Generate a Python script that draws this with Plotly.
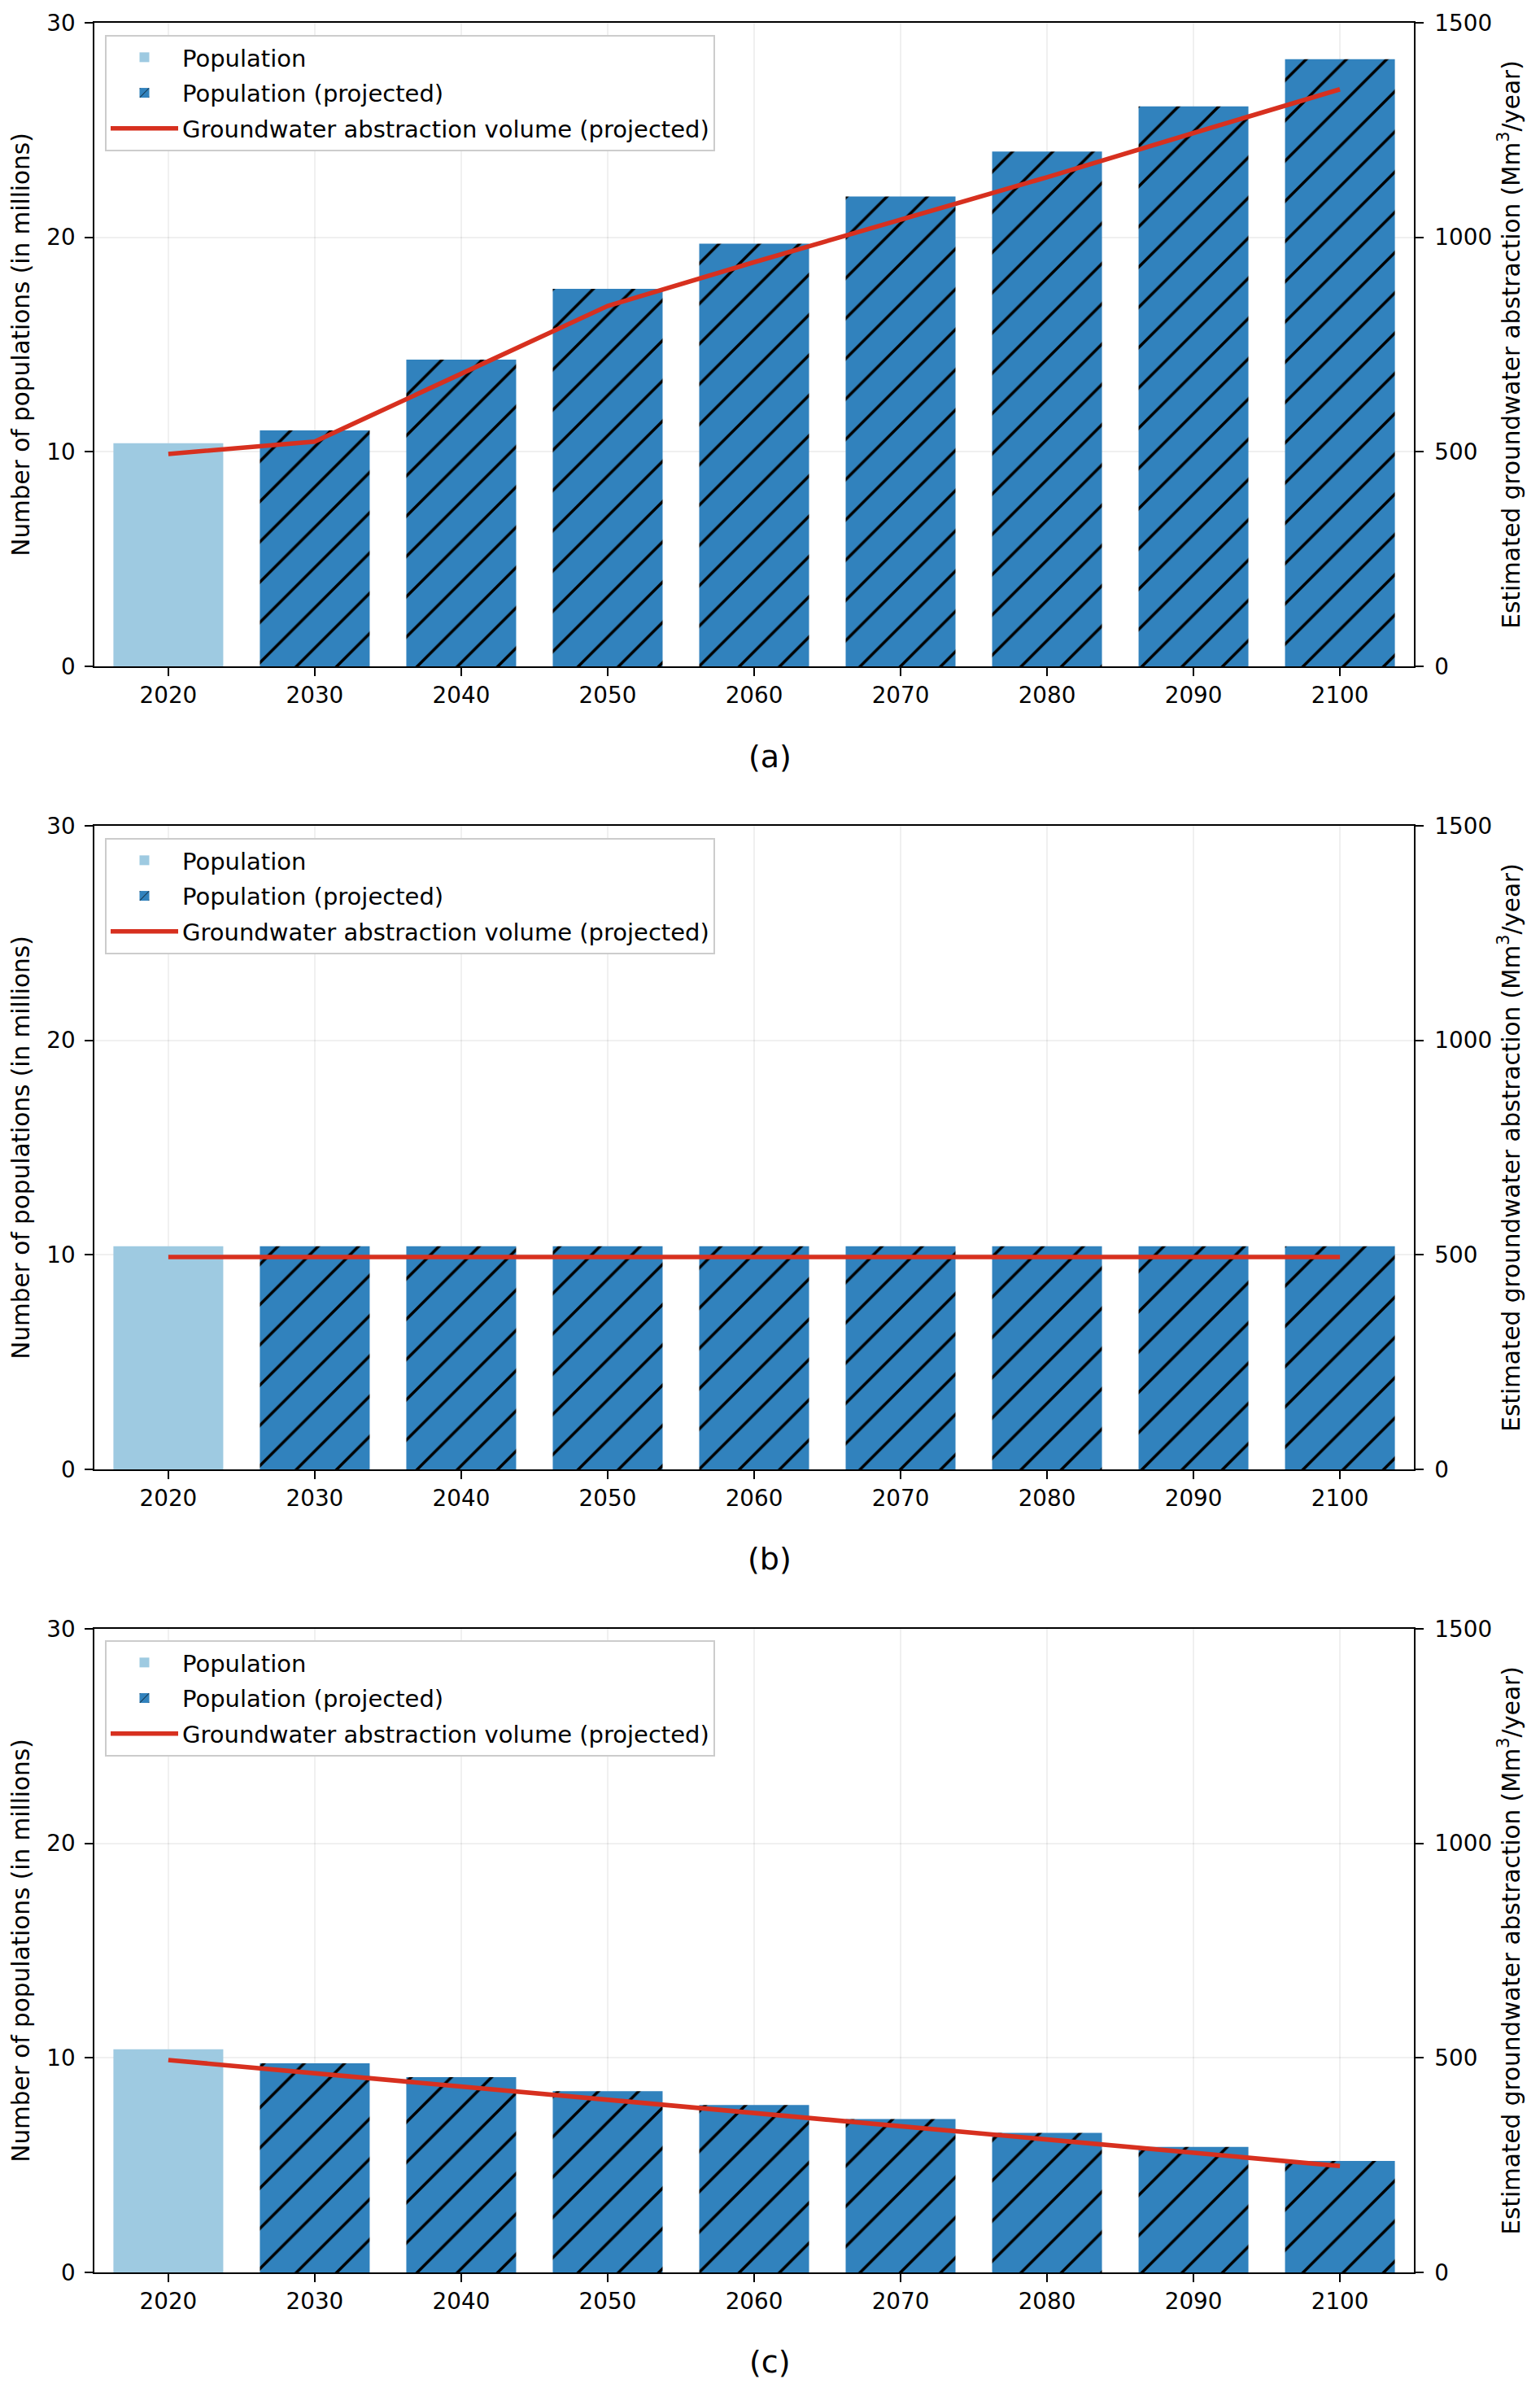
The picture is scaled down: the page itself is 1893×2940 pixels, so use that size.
import plotly.graph_objects as go

# ---------------- data ----------------
years = ["2020", "2030", "2040", "2050", "2060", "2070", "2080", "2090", "2100"]
hist_years = ["2020"]
proj_years = ["2030", "2040", "2050", "2060", "2070", "2080", "2090", "2100"]

pop_a_hist = [10.4]
pop_a_proj = [11.0, 14.3, 17.6, 19.7, 21.9, 24.0, 26.1, 28.3]
gw_a = [495, 524, 682, 840, 942, 1040, 1140, 1243, 1345]

pop_b_hist = [10.4]
pop_b_proj = [10.4, 10.4, 10.4, 10.4, 10.4, 10.4, 10.4, 10.4]
gw_b = [495, 495, 495, 495, 495, 495, 495, 495, 495]

pop_c_hist = [10.4]
pop_c_proj = [9.75, 9.1, 8.45, 7.8, 7.15, 6.5, 5.85, 5.2]
gw_c = [495, 464, 434, 403, 372, 341, 311, 279, 248]

panel_labels = ["(a)", "(b)", "(c)"]
left_ticks = [0, 10, 20, 30]
right_ticks = [0, 500, 1000, 1500]

name_hist = "Population"
name_proj = "Population (projected)"
name_gw = "Groundwater abstraction volume (projected)"
left_title = "Number of populations (in millions)"
right_title = "Estimated groundwater abstraction (Mm<sup>3</sup>/year)"

# ---------------- style ----------------
OFF = 8  # page body margin of the browser
W, H = 1893 - OFF, 2940 - OFF
ML, MR, MT, MB = 116 - OFF, 155, 28 - OFF, 147
plot_w = W - ML - MR
plot_h = H - MT - MB
panel_px = [(28, 819), (1015, 1806), (2002, 2793)]
legend_top_px = [43, 1030, 2016]
label_px = [930, 1916, 2903]

C_HIST = "#9ecae1"
C_PROJ = "#3182bd"
C_LINE = "#d7301f"
FONT = "DejaVu Sans"
FS_TICK = 27.8
FS_TITLE = 29.5
FS_LEG = 29
LW = 2.2


def py(px):
    return (H - MB - (px - OFF)) / plot_h


def pxx(px):
    return (px - OFF - ML) / plot_w


panels = [
    (pop_a_hist, pop_a_proj, gw_a),
    (pop_b_hist, pop_b_proj, gw_b),
    (pop_c_hist, pop_c_proj, gw_c),
]

fig = go.Figure()
layout = {}
annotations = []

for i, (hist, proj, gw) in enumerate(panels):
    xname = "x" if i == 0 else f"x{i + 1}"
    ylname = "y" if i == 0 else f"y{2 * i + 1}"
    yrname = f"y{2 * i + 2}"
    legname = "legend" if i == 0 else f"legend{i + 1}"

    fig.add_trace(go.Bar(
        x=hist_years, y=hist, name=name_hist, width=0.75,
        marker=dict(color=C_HIST, line=dict(width=0)),
        xaxis=xname, yaxis=ylname, legend=legname, legendgroup=f"h{i}",
    ))
    fig.add_trace(go.Bar(
        x=proj_years, y=proj, name=name_proj, width=0.75,
        marker=dict(color=C_PROJ, line=dict(width=0),
                    pattern=dict(shape="/", fgcolor="black", bgcolor=C_PROJ,
                                 size=35, solidity=0.1, fillmode="replace")),
        xaxis=xname, yaxis=ylname, legend=legname, legendgroup=f"p{i}",
    ))
    fig.add_trace(go.Scatter(
        x=years, y=gw, name=name_gw, mode="lines",
        line=dict(color=C_LINE, width=5.6),
        xaxis=xname, yaxis=yrname, legend=legname, legendgroup=f"g{i}",
    ))

    top, bot = panel_px[i]
    common = dict(
        showline=True, linecolor="black", linewidth=LW,
        ticks="outside", ticklen=9.7, tickwidth=LW, tickcolor="black",
        tickfont=dict(size=FS_TICK, color="black", family=FONT),
        zeroline=False,
    )
    layout["xaxis" if i == 0 else f"xaxis{i + 1}"] = dict(
        domain=[0, 1], anchor=ylname, type="category",
        categoryorder="array", categoryarray=years,
        range=[-0.505, 8.505], mirror=True,
        showgrid=True, gridcolor="rgba(0,0,0,0.06)", gridwidth=1.5,
        ticklabelstandoff=0,
        **common,
    )
    layout["yaxis" if i == 0 else f"yaxis{2 * i + 1}"] = dict(
        domain=[py(bot), py(top)], anchor=xname,
        range=[0, 30], tickvals=left_ticks,
        showgrid=True, gridcolor="rgba(0,0,0,0.06)", gridwidth=1.5,
        ticklabelstandoff=6,
        title=dict(text=left_title, font=dict(size=FS_TITLE, color="black", family=FONT), standoff=12),
        **common,
    )
    layout[f"yaxis{2 * i + 2}"] = dict(
        overlaying=ylname, side="right", anchor=xname,
        range=[0, 1500], tickvals=right_ticks,
        showgrid=False, ticklabelstandoff=8,
        title=dict(text=right_title, font=dict(size=FS_TITLE, color="black", family=FONT), standoff=14),
        **common,
    )
    layout[legname] = dict(
        x=pxx(129), xanchor="left", xref="paper",
        y=py(legend_top_px[i]), yanchor="top", yref="paper",
        bgcolor="white", bordercolor="#cccccc", borderwidth=2,
        font=dict(size=FS_LEG, color="black", family=FONT),
        tracegroupgap=3, itemwidth=83,
    )
    annotations.append(dict(
        text=panel_labels[i], x=pxx(946), y=py(label_px[i]),
        xref="paper", yref="paper", xanchor="center", yanchor="middle",
        showarrow=False, font=dict(size=38, color="black", family=FONT),
    ))

fig.update_layout(
    width=W, height=H,
    margin=dict(l=ML, r=MR, t=MT, b=MB, autoexpand=False),
    paper_bgcolor="white", plot_bgcolor="white",
    font=dict(family=FONT, size=FS_TICK, color="black"),
    barmode="overlay", showlegend=True,
    annotations=annotations,
    **layout,
)

fig.write_html("out.html")
